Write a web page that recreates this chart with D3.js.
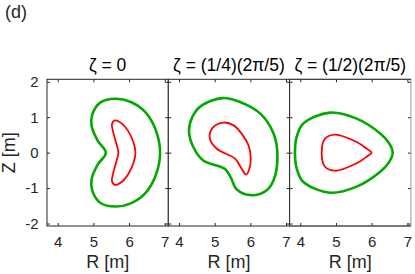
<!DOCTYPE html>
<html>
<head>
<meta charset="utf-8">
<script src="https://cdn.jsdelivr.net/npm/d3@7"></script>
<style>
  body { margin: 0; background: #fff; }
  text { font-family: "Liberation Sans", Arial, sans-serif; fill: #262626; }
</style>
</head>
<body>
<svg id="chart" width="415" height="274"></svg>
<script>
"use strict"

// panel titles
const titles = ["\u03b6 = 0", "\u03b6 = (1/4)(2\u03c0/5)", "\u03b6 = (1/2)(2\u03c0/5)"]
const xTicks = [4, 5, 6, 7]
const yTicks = [-2, -1, 0, 1, 2]

// outer surface (green), [R, Z]
const outer0 = [[5.62, 1.52], [6.05, 1.43], [6.45, 1.15], [6.74, 0.66], [6.87, 0], [6.74, -0.66], [6.45, -1.15], [6.05, -1.43],
    [5.62, -1.52], [5.2, -1.42], [4.97, -1.08], [4.95, -0.75], [5.12, -0.34], [5.35, 0], [5.12, 0.34], [4.95, 0.75], [4.97, 1.08], [5.2, 1.42]]
const outer1 = [[5.22, 1.54], [5.71, 1.43], [6.28, 1.1], [6.65, 0.54], [6.76, -0.12], [6.65, -0.78], [6.46, -1.06], [6.04, -1.2],
    [5.62, -1.04], [5.45, -0.7], [5.29, -0.46], [4.68, -0.22], [4.4, 0.16], [4.28, 0.62], [4.38, 1.02], [4.62, 1.32]]
const outer2 = [[4.83, 1.13], [5.58, 0.96], [6.24, 0.54], [6.48, 0.28], [6.59, 0], [6.48, -0.28], [6.24, -0.54], [5.58, -0.96],
    [4.83, -1.13], [4.08, -0.82], [3.9, -0.45], [3.85, 0], [3.9, 0.45], [4.08, 0.82]]

// inner surface (red)
const inner0 = [[5.6, 0.91], [5.8, 0.82], [5.98, 0.6], [6.12, 0.3], [6.18, 0], [6.12, -0.3], [5.98, -0.6], [5.8, -0.82],
    [5.6, -0.91], [5.52, -0.8], [5.55, -0.6], [5.63, -0.3], [5.7, 0], [5.63, 0.3], [5.55, 0.6], [5.52, 0.8]]
const inner1 = [[5.25, 0.85], [5.53, 0.77], [5.76, 0.53], [5.95, 0.2], [6.01, -0.14], [5.97, -0.46], [5.88, -0.62],
    [5.76, -0.46], [5.57, -0.17], [5.06, 0.11], [4.86, 0.42], [4.96, 0.72]]
const inner2 = [[4.97, 0.51], [5.58, 0.3], [5.88, 0.1], [6.0, 0], [5.88, -0.1], [5.58, -0.3], [4.97, -0.51], [4.69, -0.39],
    [4.6, 0], [4.69, 0.39]]

const outers = [outer0, outer1, outer2]
const inners = [inner0, inner1, inner2]

const svg = d3.select("#chart")
const margin = {left: 47, top: 79.3}
const pw = 121.3, ph = 146.7

const x = d3.scaleLinear().domain([3.7, 7.1]).range([0, pw])
const y = d3.scaleLinear().domain([-2.07, 2.07]).range([ph, 0])

const line = d3.line()
    .x(d => x(d[0]))
    .y(d => y(d[1]))
    .curve(d3.curveCatmullRomClosed.alpha(0.5))

svg.append("text")
    .attr("x", 5)
    .attr("y", 18)
    .style("font-size", "18px")
    .text("(d)")

svg.append("text")
    .attr("transform", "translate(15," + (margin.top + ph / 2) + ") rotate(-90)")
    .style("text-anchor", "middle")
    .style("font-size", "18px")
    .text("Z [m]")

titles.forEach((t, i) => {
    const g = svg.append("g")
        .attr("transform", "translate(" + (margin.left + i * pw) + "," + margin.top + ")")

    g.append("rect")
        .attr("width", pw)
        .attr("height", ph)
        .style("fill", "#fff")

    g.append("g")
        .attr("transform", "translate(0," + ph + ")")
        .call(d3.axisBottom(x).tickValues(xTicks).tickSizeInner(-3).tickSizeOuter(0).tickPadding(10).tickFormat(d => String(d)))
    g.append("g")
        .call(d3.axisTop(x).tickValues(xTicks).tickSizeInner(-3).tickSizeOuter(0).tickFormat(""))
    g.append("g")
        .call(d3.axisLeft(y).tickValues(yTicks).tickSizeInner(-3).tickSizeOuter(0).tickPadding(8.5)
            .tickFormat(d => i === 0 ? String(d) : ""))
    g.append("g")
        .attr("transform", "translate(" + pw + ",0)")
        .call(d3.axisRight(y).tickValues(yTicks).tickSizeInner(-3).tickSizeOuter(0).tickFormat(""))

    g.selectAll(".domain").remove()
    g.selectAll(".tick line").style("stroke", "#262626")
    g.selectAll(".tick text").style("font-size", "15px").style("fill", "#262626")
        .style("font-family", "'Liberation Sans', Arial, sans-serif")

    g.append("rect")
        .attr("width", pw)
        .attr("height", ph)
        .style("fill", "none")
        .style("stroke", i === 2 ? "#999" : "#262626")
        .style("stroke-width", 1)
    if (i === 2) {
        g.append("line").attr("x1", 0).attr("x2", pw).attr("y1", 0).attr("y2", 0).style("stroke", "#262626")
        g.append("line").attr("x1", 0).attr("x2", pw).attr("y1", ph).attr("y2", ph).style("stroke", "#262626")
        g.append("line").attr("x1", 0).attr("x2", 0).attr("y1", 0).attr("y2", ph).style("stroke", "#262626")
    }

    g.append("path")
        .attr("d", line(outers[i]))
        .style("fill", "none")
        .style("stroke", "#00aa00")
        .style("stroke-width", 2.6)

    g.append("path")
        .attr("d", line(inners[i]))
        .style("fill", "none")
        .style("stroke", "#ff0000")
        .style("stroke-width", 1.8)

    g.append("text")
        .attr("x", pw / 2)
        .attr("y", -8.8)
        .style("text-anchor", "middle")
        .style("font-size", "17.5px")
        .style("fill", "#000")
        .text(t)

    g.append("text")
        .attr("x", pw / 2)
        .attr("y", 267.7 - margin.top)
        .style("text-anchor", "middle")
        .style("font-size", "18px")
        .text("R [m]")
})
</script>
</body>
</html>
